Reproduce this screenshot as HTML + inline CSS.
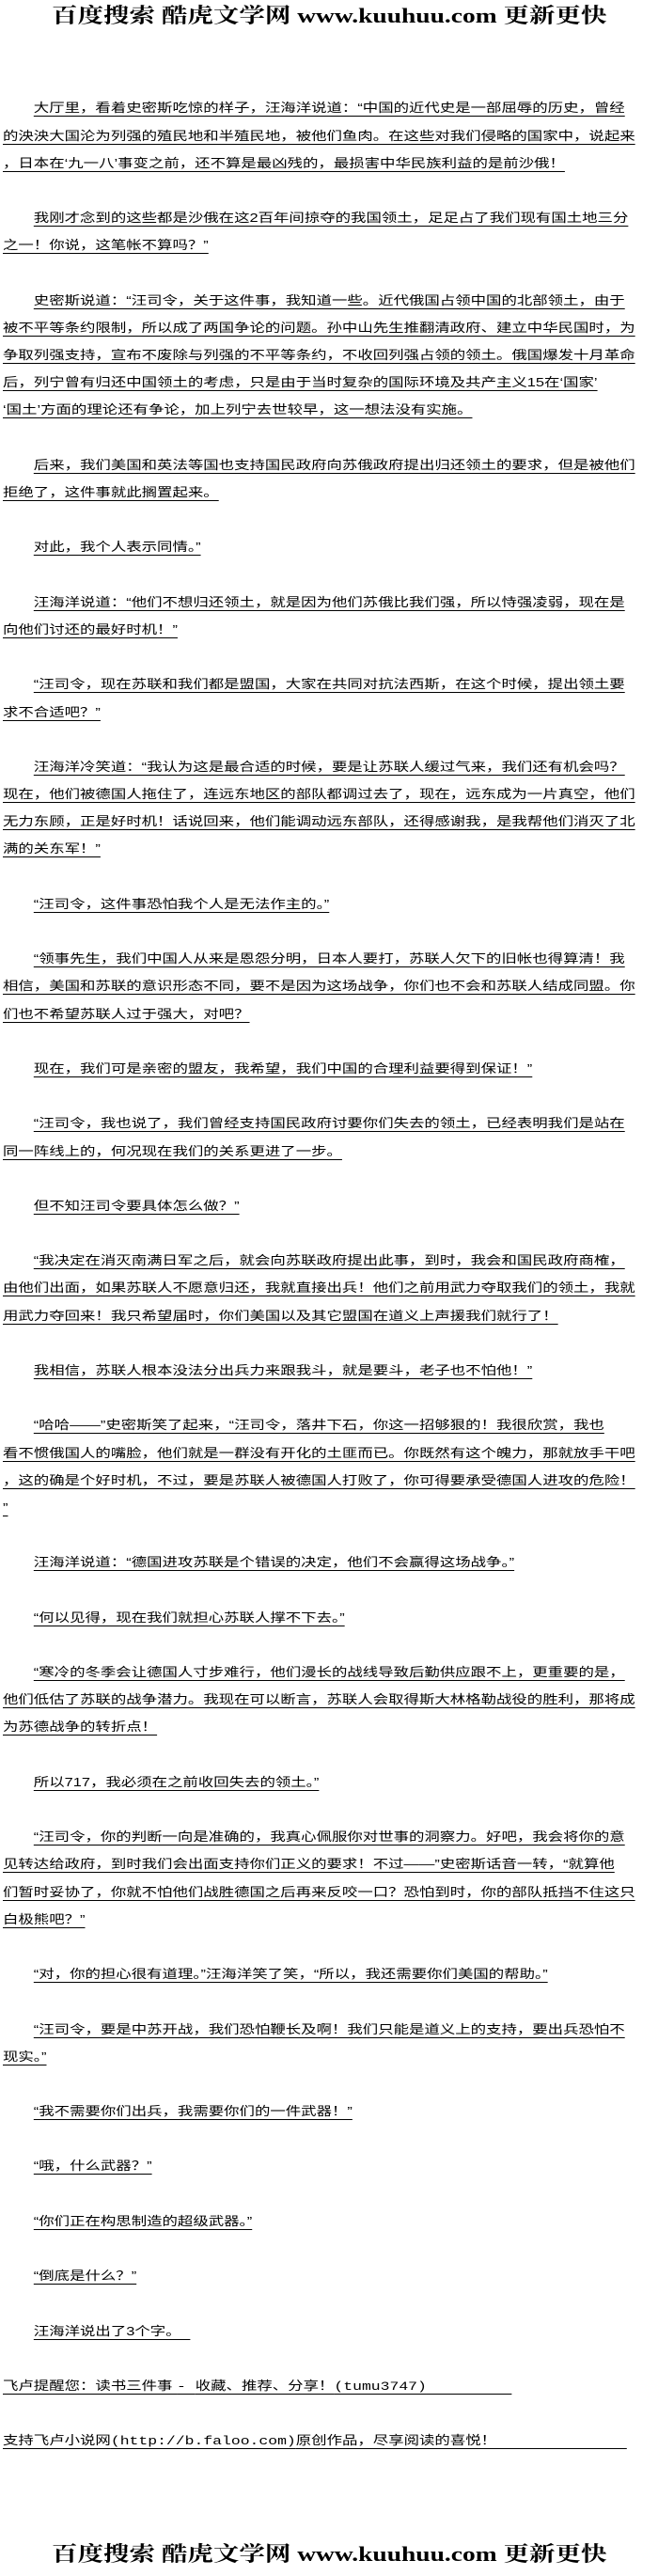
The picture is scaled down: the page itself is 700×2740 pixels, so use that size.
<!DOCTYPE html>
<html><head><meta charset="utf-8">
<style>
html,body{margin:0;padding:0;background:#fff;}
body{width:700px;height:2740px;position:relative;overflow:hidden;}
.hdr{position:absolute;left:0;width:700px;text-align:center;font-family:"Liberation Serif","Noto Serif CJK SC",serif;font-weight:bold;font-size:22px;line-height:22px;color:#000;white-space:nowrap;}
.hdr span{display:inline-block;transform:scaleX(1.25);transform-origin:center;}
.wrap{position:absolute;left:3px;top:100.4px;width:555px;transform:scaleX(1.262);transform-origin:0 0;font-family:"Liberation Sans","Noto Sans CJK SC",sans-serif;font-size:13px;color:#000;}
.wrap div{height:29.2px;line-height:29.2px;white-space:nowrap;}
.wrap u{text-decoration:underline;text-decoration-thickness:1px;text-underline-offset:4px;}
.i{padding-left:26px;}
.mono{font-family:"Liberation Mono","Noto Sans CJK SC",monospace;}
.tail{display:inline-block;border-bottom:1px solid #000;height:1px;vertical-align:-5px;}
</style></head><body>
<div class="hdr" style="top:6px"><span>百度搜索 酷虎文学网 www.kuuhuu.com 更新更快</span></div>
<div class="wrap">
<div class="i"><u>大厅里，看着史密斯吃惊的样子，汪海洋说道：“中国的近代史是一部屈辱的历史，曾经</u></div>
<div><u>的泱泱大国沦为列强的殖民地和半殖民地，被他们鱼肉。在这些对我们侵略的国家中，说起来</u></div>
<div><u>，日本在‘九一八’事变之前，还不算是最凶残的，最损害中华民族利益的是前沙俄！</u></div>
<div></div>
<div class="i"><u>我刚才念到的这些都是沙俄在这2百年间掠夺的我国领土，足足占了我们现有国土地三分</u></div>
<div><u>之一！你说，这笔帐不算吗？”</u></div>
<div></div>
<div class="i"><u>史密斯说道：“汪司令，关于这件事，我知道一些。近代俄国占领中国的北部领土，由于</u></div>
<div><u>被不平等条约限制，所以成了两国争论的问题。孙中山先生推翻清政府、建立中华民国时，为</u></div>
<div><u>争取列强支持，宣布不废除与列强的不平等条约，不收回列强占领的领土。俄国爆发十月革命</u></div>
<div><u>后，列宁曾有归还中国领土的考虑，只是由于当时复杂的国际环境及共产主义15在‘国家’</u></div>
<div><u>‘国土’方面的理论还有争论，加上列宁去世较早，这一想法没有实施。</u></div>
<div></div>
<div class="i"><u>后来，我们美国和英法等国也支持国民政府向苏俄政府提出归还领土的要求，但是被他们</u></div>
<div><u>拒绝了，这件事就此搁置起来。</u></div>
<div></div>
<div class="i"><u>对此，我个人表示同情。”</u></div>
<div></div>
<div class="i"><u>汪海洋说道：“他们不想归还领土，就是因为他们苏俄比我们强，所以恃强凌弱，现在是</u></div>
<div><u>向他们讨还的最好时机！”</u></div>
<div></div>
<div class="i"><u>“汪司令，现在苏联和我们都是盟国，大家在共同对抗法西斯，在这个时候，提出领土要</u></div>
<div><u>求不合适吧？”</u></div>
<div></div>
<div class="i"><u>汪海洋冷笑道：“我认为这是最合适的时候，要是让苏联人缓过气来，我们还有机会吗？</u></div>
<div><u>现在，他们被德国人拖住了，连远东地区的部队都调过去了，现在，远东成为一片真空，他们</u></div>
<div><u>无力东顾，正是好时机！话说回来，他们能调动远东部队，还得感谢我，是我帮他们消灭了北</u></div>
<div><u>满的关东军！”</u></div>
<div></div>
<div class="i"><u>“汪司令，这件事恐怕我个人是无法作主的。”</u></div>
<div></div>
<div class="i"><u>“领事先生，我们中国人从来是恩怨分明，日本人要打，苏联人欠下的旧帐也得算清！我</u></div>
<div><u>相信，美国和苏联的意识形态不同，要不是因为这场战争，你们也不会和苏联人结成同盟。你</u></div>
<div><u>们也不希望苏联人过于强大，对吧？</u></div>
<div></div>
<div class="i"><u>现在，我们可是亲密的盟友，我希望，我们中国的合理利益要得到保证！”</u></div>
<div></div>
<div class="i"><u>“汪司令，我也说了，我们曾经支持国民政府讨要你们失去的领土，已经表明我们是站在</u></div>
<div><u>同一阵线上的，何况现在我们的关系更进了一步。</u></div>
<div></div>
<div class="i"><u>但不知汪司令要具体怎么做？”</u></div>
<div></div>
<div class="i"><u>“我决定在消灭南满日军之后，就会向苏联政府提出此事，到时，我会和国民政府商榷，</u></div>
<div><u>由他们出面，如果苏联人不愿意归还，我就直接出兵！他们之前用武力夺取我们的领土，我就</u></div>
<div><u>用武力夺回来！我只希望届时，你们美国以及其它盟国在道义上声援我们就行了！</u></div>
<div></div>
<div class="i"><u>我相信，苏联人根本没法分出兵力来跟我斗，就是要斗，老子也不怕他！”</u></div>
<div></div>
<div class="i"><u>“哈哈——”史密斯笑了起来，“汪司令，落井下石，你这一招够狠的！我很欣赏，我也</u></div>
<div><u>看不惯俄国人的嘴脸，他们就是一群没有开化的土匪而已。你既然有这个魄力，那就放手干吧</u></div>
<div><u>，这的确是个好时机，不过，要是苏联人被德国人打败了，你可得要承受德国人进攻的危险！</u></div>
<div><u>”</u></div>
<div></div>
<div class="i"><u>汪海洋说道：“德国进攻苏联是个错误的决定，他们不会赢得这场战争。”</u></div>
<div></div>
<div class="i"><u>“何以见得，现在我们就担心苏联人撑不下去。”</u></div>
<div></div>
<div class="i"><u>“寒冷的冬季会让德国人寸步难行，他们漫长的战线导致后勤供应跟不上，更重要的是，</u></div>
<div><u>他们低估了苏联的战争潜力。我现在可以断言，苏联人会取得斯大林格勒战役的胜利，那将成</u></div>
<div><u>为苏德战争的转折点！</u></div>
<div></div>
<div class="i"><u>所以717，我必须在之前收回失去的领土。”</u></div>
<div></div>
<div class="i"><u>“汪司令，你的判断一向是准确的，我真心佩服你对世事的洞察力。好吧，我会将你的意</u></div>
<div><u>见转达给政府，到时我们会出面支持你们正义的要求！不过——”史密斯话音一转，“就算他</u></div>
<div><u>们暂时妥协了，你就不怕他们战胜德国之后再来反咬一口？恐怕到时，你的部队抵挡不住这只</u></div>
<div><u>白极熊吧？”</u></div>
<div></div>
<div class="i"><u>“对，你的担心很有道理。”汪海洋笑了笑，“所以，我还需要你们美国的帮助。”</u></div>
<div></div>
<div class="i"><u>“汪司令，要是中苏开战，我们恐怕鞭长及啊！我们只能是道义上的支持，要出兵恐怕不</u></div>
<div><u>现实。”</u></div>
<div></div>
<div class="i"><u>“我不需要你们出兵，我需要你们的一件武器！”</u></div>
<div></div>
<div class="i"><u>“哦，什么武器？”</u></div>
<div></div>
<div class="i"><u>“你们正在构思制造的超级武器。”</u></div>
<div></div>
<div class="i"><u>“倒底是什么？”</u></div>
<div></div>
<div class="i"><u>汪海洋说出了3个字。</u><span class="tail" style="width:8px"></span></div>
<div></div>
<div><u>飞卢提醒您：读书三件事 <span class="mono">- </span>收藏、推荐、分享！<span class="mono">(tumu3747)</span></u><span class="tail" style="width:72px"></span></div>
<div></div>
<div><u>支持飞卢小说网<span class="mono">(http://b.faloo.com)</span>原创作品，尽享阅读的喜悦！</u><span class="tail" style="width:110px"></span></div>
</div>
<div class="hdr" style="top:2706px"><span>百度搜索 酷虎文学网 www.kuuhuu.com 更新更快</span></div>
</body></html>
